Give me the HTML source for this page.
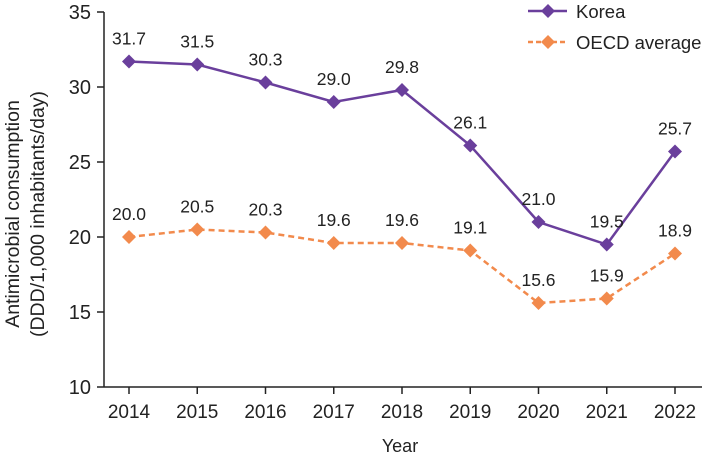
<!DOCTYPE html>
<html><head><meta charset="utf-8"><style>
body{margin:0;background:#fff}
svg text{font-family:"Liberation Sans",sans-serif;fill:#222}
</style></head><body>
<svg id="c" width="702" height="460"></svg>
<script>
const years=["2014","2015","2016","2017","2018","2019","2020","2021","2022"];
const korea=[31.7,31.5,30.3,29.0,29.8,26.1,21.0,19.5,25.7];
const oecd=[20.0,20.5,20.3,19.6,19.6,19.1,15.6,15.9,18.9];
const yTicks=[10,15,20,25,30,35];
const NS="http://www.w3.org/2000/svg";
const svg=document.getElementById('c');
function x(i){return 129+i*68.25;}
function y(v){return 387-(v-10)*15;}
function el(t,a,p){const e=document.createElementNS(NS,t);for(const k in a)e.setAttribute(k,a[k]);(p||svg).appendChild(e);return e;}
let ax=el('line',{x1:104,y1:12,x2:104,y2:387,stroke:'#222','stroke-width':1.5});


let bx=el('line',{x1:104,y1:387,x2:702,y2:387,stroke:'#222','stroke-width':1.5});


yTicks.forEach(v=>{
  el('line',{x1:97,y1:y(v),x2:104,y2:y(v),stroke:'#222','stroke-width':1.5});
  const t=el('text',{x:91,y:y(v)+7,'text-anchor':'end','font-size':20});t.textContent=v;
  
  
});
years.forEach((yr,i)=>{
  el('line',{x1:x(i),y1:387,x2:x(i),y2:394,stroke:'#222','stroke-width':1.5});
  const t=el('text',{x:x(i),y:418,'text-anchor':'middle','font-size':19});t.textContent=yr;
  
  
});
let xt=el('text',{x:400,y:452,'text-anchor':'middle','font-size':18});xt.textContent='Year';


let yt=el('text',{transform:'translate(0,214) rotate(-90)','text-anchor':'middle','font-size':19.5});


let s1=el('tspan',{x:0,y:19},yt);s1.textContent='Antimicrobial consumption';
let s2=el('tspan',{x:0,y:44},yt);s2.textContent='(DDD/1,000 inhabitants/day)';
function diamond(cx,cy,c,p){return el('polygon',{points:`${cx},${cy-7} ${cx+7},${cy} ${cx},${cy+7} ${cx-7},${cy}`,fill:c},p);}
function series(data,color,dash,name,labelDy){
  const g=el('g',{});
  
  
  el('polyline',{points:data.map((v,i)=>x(i)+','+y(v)).join(' '),fill:'none',stroke:color,'stroke-width':2.5,'stroke-dasharray':dash},g);
  data.forEach((v,i)=>{
    const d=diamond(x(i),y(v),color,g);
    
    
    const t=el('text',{x:x(i),y:y(v)+labelDy,'text-anchor':'middle','font-size':17.5},g);
    t.textContent=v.toFixed(1);
    
    
  });
}
series(oecd,'#f28a4c','6,4','oecd-series',-17);
series(korea,'#6a3f9c','none','korea-series',-17);
const lg=el('g',{});


el('line',{x1:528,y1:11,x2:567,y2:11,stroke:'#6a3f9c','stroke-width':2.5},lg);
diamond(548,11,'#6a3f9c',lg);
let l1=el('text',{x:576,y:18,'font-size':18.5},lg);l1.textContent='Korea';
el('line',{x1:528,y1:42,x2:567,y2:42,stroke:'#f28a4c','stroke-width':2.5,'stroke-dasharray':'5,3'},lg);
diamond(548,42,'#f28a4c',lg);
let l2=el('text',{x:576,y:49,'font-size':18.5},lg);l2.textContent='OECD average';
</script>
</body></html>
